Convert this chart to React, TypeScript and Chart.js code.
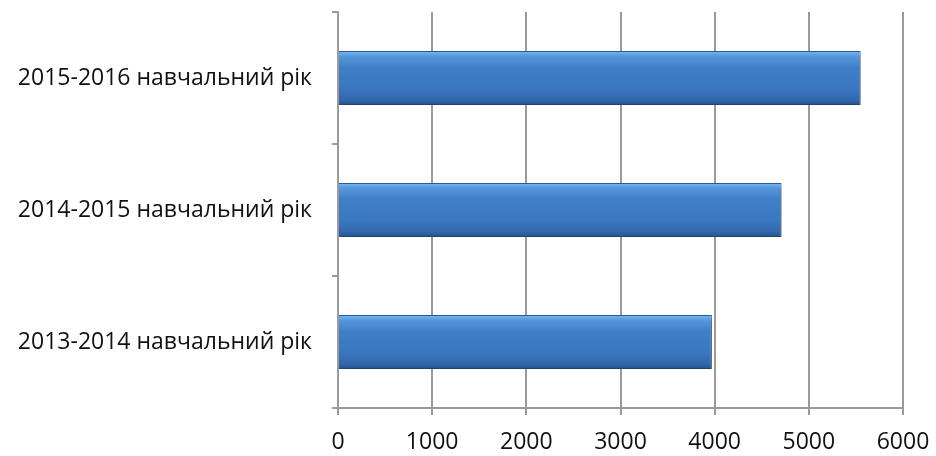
import React, { useEffect, useRef } from "react";
import { Chart, registerables } from "chart.js";

Chart.register(...registerables);

const categories = [
  "2015-2016 навчальний рік",
  "2014-2015 навчальний рік",
  "2013-2014 навчальний рік",
];
const values = [5550, 4710, 3970];
const xMin = 0;
const xMax = 6000;
const xStep = 1000;
const barFraction = 0.41;

const shadowPlugin = {
  id: "barShadow",
  beforeDatasetsDraw(chart: any) {
    const ctx = chart.ctx;
    ctx.save();
    ctx.shadowColor = "rgba(0,0,0,0.35)";
    ctx.shadowBlur = 5;
    ctx.shadowOffsetX = 1;
    ctx.shadowOffsetY = 3;
  },
  afterDatasetsDraw(chart: any) {
    chart.ctx.restore();
  },
};

export default function App() {
  const ref = useRef<HTMLCanvasElement | null>(null);
  useEffect(() => {
    document.body.style.margin = "0";
    const canvas = ref.current!;
    const chart = new Chart(canvas, {
      type: "bar",
      data: {
        labels: categories,
        datasets: [
          {
            data: values,
            backgroundColor: (c: any) => {
              const ch = c.chart;
              const ys = ch.scales && ch.scales.y;
              if (!ys || !ch.chartArea) return "#3a78c0";
              const cy = ys.getPixelForValue(c.dataIndex);
              const band = (ch.chartArea.bottom - ch.chartArea.top) / categories.length;
              const half = (band * barFraction) / 2;
              if (!isFinite(cy) || !isFinite(half)) return "#3a78c0";
              const g = ch.ctx.createLinearGradient(0, cy - half, 0, cy + half);
              g.addColorStop(0, "#7ab8f2");
              g.addColorStop(0.1, "#5597dc");
              g.addColorStop(0.3, "#3f7fc9");
              g.addColorStop(0.7, "#3a77c0");
              g.addColorStop(0.9, "#3268ac");
              g.addColorStop(1, "#24518a");
              return g;
            },
            borderColor: "#2b5c98",
            borderWidth: 1,
            barPercentage: barFraction,
            categoryPercentage: 1,
          },
        ],
      },
      options: {
        indexAxis: "y",
        animation: false,
        responsive: false,
        maintainAspectRatio: false,
        layout: { padding: { top: 12, right: 33, left: 0, bottom: 0 } },
        plugins: { legend: { display: false }, tooltip: { enabled: false } },
        scales: {
          x: {
            min: xMin,
            max: xMax,
            ticks: {
              stepSize: xStep,
              color: "#111",
              font: { family: "'Open Sans', sans-serif", size: 23 },
              padding: 14,
              callback: (v: any) => String(v),
            },
            grid: {
              color: "#9a9a9a",
              lineWidth: 2,
              tickLength: 7,
              drawTicks: true,
            },
            border: { display: true, color: "#9a9a9a", width: 2 },
            afterFit: (s: any) => {
              s.height = 456 - 408;
              s.paddingLeft = 0;
              s.paddingRight = 0;
            },
          },
          y: {
            ticks: {
              color: "#111",
              font: { family: "'Open Sans', sans-serif", size: 23 },
              padding: 20,
            },
            grid: {
              drawOnChartArea: false,
              drawTicks: true,
              tickLength: 6,
              color: "#9a9a9a",
              lineWidth: 2,
              offset: true,
            },
            border: { display: true, color: "#9a9a9a", width: 2 },
            afterFit: (s: any) => {
              s.width = 338;
              s.paddingTop = 0;
              s.paddingBottom = 0;
            },
          },
        },
      },
      plugins: [shadowPlugin],
    } as any);
    return () => chart.destroy();
  }, []);
  return (
    <div style={{ width: 936, height: 456, background: "#fff" }}>
      <canvas ref={ref} width={936} height={456} style={{ display: "block" }} />
    </div>
  );
}
